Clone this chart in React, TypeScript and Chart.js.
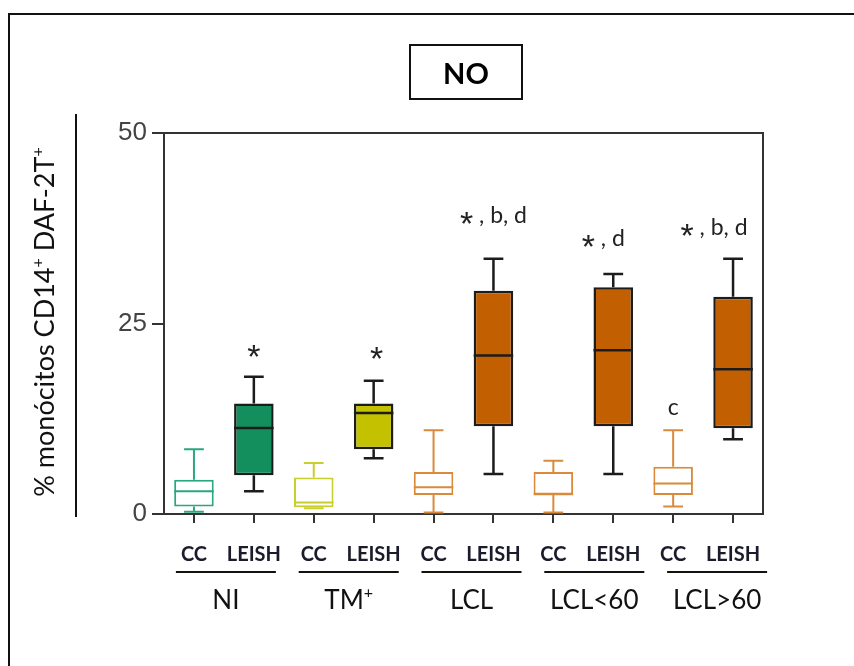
import React, { useEffect, useRef } from "react";
import { Chart, registerables } from "chart.js";
Chart.register(...registerables);

// ---- data ----
const categories = ["CC", "LEISH", "CC", "LEISH", "CC", "LEISH", "CC", "LEISH", "CC", "LEISH"];
const groups = ["NI", "TM", "LCL", "LCL<60", "LCL>60"];
const groupSup = ["", "+", "", "", ""];
const whiskerMin = [0.3, 3.0, 0.75, 7.3, 0.2, 5.25, 0.2, 5.25, 1.0, 9.8];
const q1 = [1.0, 5.1, 0.9, 8.5, 2.5, 11.5, 2.55, 11.5, 2.5, 11.25];
const median = [3.0, 11.3, 1.5, 13.25, 3.5, 20.8, 2.6, 21.5, 4.0, 19.0];
const q3 = [4.5, 14.5, 4.8, 14.5, 5.5, 29.3, 5.5, 29.75, 6.2, 28.5];
const whiskerMax = [8.5, 18.0, 6.7, 17.5, 11.0, 33.5, 7.0, 31.5, 11.0, 33.5];
const yTicks = [0, 25, 50];
const annotationStar = [true, true, true, true, false, true];
const annotationText = ["", "", " , b, d", " , d", "c", " , b, d"];
const annotationIndex = [1, 3, 5, 7, 8, 9];
const annotationValue = [21.8, 21.5, 39.2, 36.2, 14.0, 37.7];

// ---- styles ----
const ccColors = ["#2aa681", "#c8cf2c", "#d98b3b", "#d98b3b", "#d98b3b"];
const leishColors = ["#138f5e", "#c4c100", "#c25f00", "#c25f00", "#c25f00"];
const annotationDx = [0, 3, 0, -10, 0, -19];
const DARK = "#1c1c1c";

function drawSupText(ctx: CanvasRenderingContext2D, parts: [string, boolean][], size: number, family: string, x: number, y: number, align: "center" | "left") {
  const supSize = Math.round(size * 0.6);
  let total = 0;
  const widths = parts.map(([t, sup]) => {
    ctx.font = `${sup ? supSize : size}px ${family}`;
    const w = ctx.measureText(t).width;
    total += w;
    return w;
  });
  let cx = align === "center" ? x - total / 2 : x;
  ctx.textAlign = "left";
  ctx.textBaseline = "alphabetic";
  parts.forEach(([t, sup], i) => {
    ctx.font = `${sup ? supSize : size}px ${family}`;
    ctx.fillText(t, cx, sup ? y - size * 0.42 : y);
    cx += widths[i];
  });
}

const decor = {
  id: "decor",
  afterDatasetsDraw(chart: any) {
    const { ctx, chartArea, scales } = chart;
    const xs = scales.x;
    const ys = scales.y;
    const meta = chart.getDatasetMeta(0);
    ctx.save();
    // top + right frame
    ctx.strokeStyle = "#333";
    ctx.lineWidth = 2;
    ctx.beginPath();
    ctx.moveTo(chartArea.left, chartArea.top);
    ctx.lineTo(chartArea.right, chartArea.top);
    ctx.lineTo(chartArea.right, chartArea.bottom);
    ctx.stroke();

    // whiskers + medians
    categories.forEach((c, i) => {
      const bar = meta.data[i];
      const cx = xs.getPixelForValue(i);
      const half = bar.width / 2;
      const g = Math.floor(i / 2);
      const leish = i % 2 === 1;
      const col = leish ? DARK : ccColors[g];
      ctx.strokeStyle = col;
      ctx.lineWidth = leish ? 2.5 : 2;
      const yMin = ys.getPixelForValue(whiskerMin[i]);
      const yMax = ys.getPixelForValue(whiskerMax[i]);
      const yQ1 = ys.getPixelForValue(q1[i]);
      const yQ3 = ys.getPixelForValue(q3[i]);
      const yMed = ys.getPixelForValue(median[i]);
      const cap = half * 0.5;
      ctx.beginPath();
      ctx.moveTo(cx, yQ3);
      ctx.lineTo(cx, yMax);
      ctx.moveTo(cx - cap, yMax);
      ctx.lineTo(cx + cap, yMax);
      ctx.moveTo(cx, yQ1);
      ctx.lineTo(cx, yMin);
      ctx.moveTo(cx - cap, yMin);
      ctx.lineTo(cx + cap, yMin);
      ctx.moveTo(cx - half, yMed);
      ctx.lineTo(cx + half, yMed);
      ctx.stroke();
    });

    // group underlines and labels
    groups.forEach((g, k) => {
      const a = xs.getPixelForValue(k * 2);
      const b = xs.getPixelForValue(k * 2 + 1);
      const mid = (a + b) / 2 + 2 + 3 * k;
      ctx.strokeStyle = "#111";
      ctx.lineWidth = 2;
      ctx.beginPath();
      ctx.moveTo(mid - 50, 572);
      ctx.lineTo(mid + 50, 572);
      ctx.stroke();
      ctx.fillStyle = "#111";
      const parts: [string, boolean][] = [[g, false]];
      if (groupSup[k]) parts.push([groupSup[k], true]);
      drawSupText(ctx, parts, 26, "Lato", mid, 609, "center");
    });

    // annotations
    annotationIndex.forEach((idx, j) => {
      const cx = xs.getPixelForValue(idx) + annotationDx[j];
      const cy = ys.getPixelForValue(annotationValue[j]);
      ctx.fillStyle = "#222";
      ctx.textBaseline = "alphabetic";
      ctx.font = "23px Lato";
      const tw = ctx.measureText(annotationText[j]).width;
      ctx.font = "34px 'Liberation Sans'";
      const sw = annotationStar[j] ? ctx.measureText("*").width : 0;
      let x0 = cx - (tw + sw) / 2;
      if (annotationStar[j]) {
        ctx.textAlign = "left";
        ctx.fillText("*", x0, cy + 20);
        x0 += sw;
      }
      ctx.font = "23px Lato";
      ctx.textAlign = "left";
      ctx.fillText(annotationText[j], x0, cy + 8);
    });

    // y title
    ctx.save();
    ctx.translate(54, 322);
    ctx.rotate(-Math.PI / 2);
    ctx.fillStyle = "#111";
    drawSupText(
      ctx,
      [["% monócitos CD14", false], ["+", true], [" DAF-2T", false], ["+", true]],
      27,
      "Lato",
      0,
      0,
      "center"
    );
    ctx.restore();
    // vertical rule next to title
    ctx.strokeStyle = "#111";
    ctx.lineWidth = 2;
    ctx.beginPath();
    ctx.moveTo(76, 114);
    ctx.lineTo(76, 517);
    ctx.stroke();
    ctx.restore();
  },
};

export default function App() {
  const ref = useRef<HTMLCanvasElement>(null);
  useEffect(() => {
    if (!ref.current) return;
    const fills = categories.map((c, i) => (i % 2 === 1 ? leishColors[Math.floor(i / 2)] : "#ffffff"));
    const borders = categories.map((c, i) => (i % 2 === 1 ? DARK : ccColors[Math.floor(i / 2)]));
    const widths = categories.map((c, i) => (i % 2 === 1 ? 2.5 : 2));
    const chart = new Chart(ref.current, {
      type: "bar",
      data: {
        labels: categories,
        datasets: [
          {
            data: categories.map((_, i) => [q1[i], q3[i]]) as any,
            backgroundColor: fills,
            borderColor: borders,
            borderWidth: widths,
            borderSkipped: false,
            barPercentage: 0.66,
            categoryPercentage: 1,
          },
        ],
      },
      options: {
        animation: false,
        responsive: false,
        maintainAspectRatio: false,
        layout: { padding: { left: 64, right: 91, top: 133, bottom: 92 } },
        plugins: { legend: { display: false }, tooltip: { enabled: false } },
        scales: {
          x: {
            grid: { display: true, drawOnChartArea: false, offset: false, tickLength: 9, color: "#333", lineWidth: 2 },
            border: { display: true, color: "#333", width: 2 },
            ticks: {
              font: { family: "Lato", weight: "bold", size: 20 },
              color: "#1b1b2b",
              padding: 20,
              autoSkip: false,
              maxRotation: 0,
            },
            afterFit: (s: any) => {
              s.height = 60;
            },
          },
          y: {
            min: 0,
            max: 50,
            afterBuildTicks: (s: any) => {
              s.ticks = yTicks.map((v) => ({ value: v }));
            },
            grid: { display: true, drawOnChartArea: false, tickLength: 12, color: "#333", lineWidth: 2 },
            border: { display: true, color: "#333", width: 2 },
            ticks: {
              font: { family: "'Liberation Sans'", size: 26 },
              color: "#444",
              padding: 5,
            },
            afterFit: (s: any) => {
              s.width = 100;
            },
          },
        },
      },
      plugins: [decor],
    });
    return () => chart.destroy();
  }, []);

  return (
    <div style={{ position: "absolute", left: 0, top: 0, width: 854, height: 666, overflow: "hidden", background: "#fff" }}>
      <canvas ref={ref} width={854} height={666} style={{ position: "absolute", left: 0, top: 0, display: "block" }} />
      <div
        style={{
          position: "absolute",
          left: 8,
          top: 13,
          width: 900,
          height: 700,
          borderLeft: "2px solid #111",
          borderTop: "2px solid #111",
          pointerEvents: "none",
        }}
      />
      <div
        style={{
          position: "absolute",
          left: 409,
          top: 44,
          width: 110,
          height: 52,
          border: "2px solid #111",
          display: "flex",
          alignItems: "center",
          justifyContent: "center",
          fontFamily: "Lato",
          fontWeight: "bold",
          fontSize: 29,
          color: "#000",
        }}
      >
        NO
      </div>
    </div>
  );
}
